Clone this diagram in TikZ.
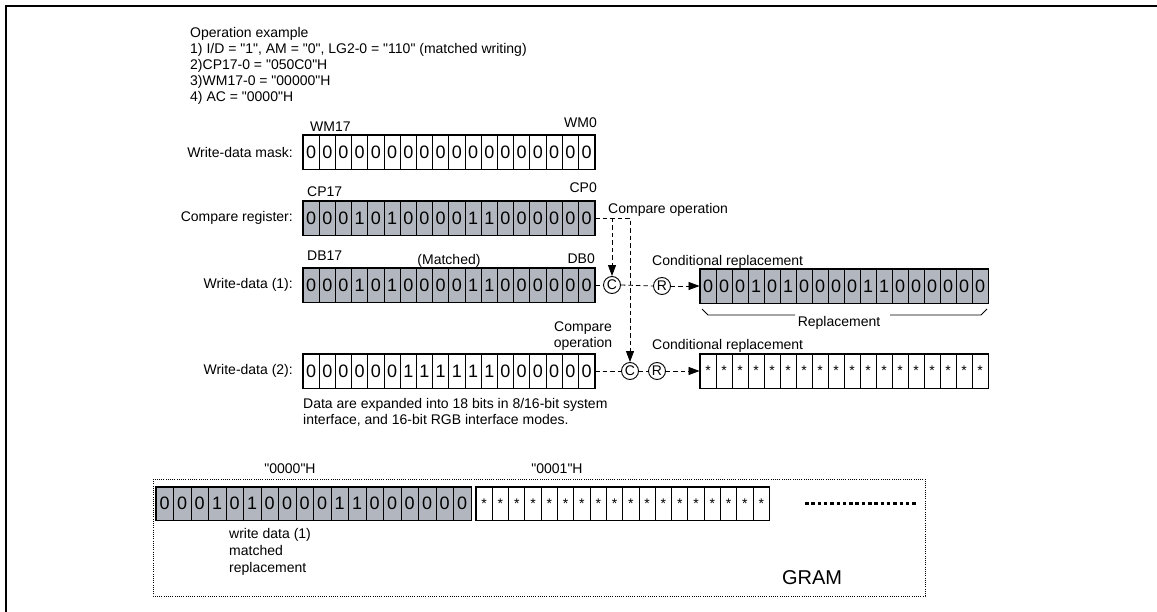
\documentclass[tikz,border=0pt]{standalone}
\usepackage{fontspec}
\setmainfont{Liberation Sans}
\usetikzlibrary{arrows.meta,calc,positioning}
\definecolor{RegGrey}{RGB}{178,182,190}
\newcommand{\dq}{\textquotedbl}

\begin{document}
\begin{tikzpicture}[x=1pt,y=-1pt,
  lbl/.style={font=\fontsize{14}{16}\selectfont,inner sep=0pt},
  bitcell/.style={draw,line width=0.9pt,minimum width=16.2pt,minimum height=34pt,inner sep=0pt,font=\fontsize{18}{18}\selectfont},
  starcell/.style={bitcell,font=\fontsize{14}{14}\selectfont},
  opnode/.style={circle,draw,line width=0.9pt,minimum size=17pt,inner sep=0pt,font=\fontsize{14}{14}\selectfont},
  dashline/.style={line width=0.8pt,dash pattern=on 4.5pt off 3pt},
  flowarrow/.style={dashline,-{Triangle[length=11pt,width=8pt]}}]
\useasboundingbox (0,0) rectangle (1157,612);
\draw[line width=2pt] (6,612) -- (6,6) -- (1157,6);

\node[lbl,anchor=base west] (opex) at (190,38) {Operation example};
\node[lbl,anchor=base west] (op1) at (190,54) {1) I/D = \dq1\dq, AM = \dq0\dq, LG2-0 = \dq110\dq\ (matched writing)};
\node[lbl,anchor=base west] (op2) at (190,70) {2)CP17-0 = \dq050C0\dq H};
\node[lbl,anchor=base west] (op3) at (190,86) {3)WM17-0 = \dq00000\dq H};
\node[lbl,anchor=base west] (op4) at (190,102) {4) AC = \dq0000\dq H};

% register rows
\foreach \b [count=\i] in {0,0,0,0,0,0,0,0,0,0,0,0,0,0,0,0,0,0}
  \node[bitcell] (wm\i) at ({303+(\i-0.5)*16.2},152) {\b};
\foreach \b [count=\i] in {0,0,0,1,0,1,0,0,0,0,1,1,0,0,0,0,0,0}
  \node[bitcell,fill=RegGrey] (cp\i) at ({303+(\i-0.5)*16.2},218) {\b};
\foreach \b [count=\i] in {0,0,0,1,0,1,0,0,0,0,1,1,0,0,0,0,0,0}
  \node[bitcell,fill=RegGrey] (wda\i) at ({303+(\i-0.5)*16.2},285) {\b};
\foreach \b [count=\i] in {0,0,0,0,0,0,1,1,1,1,1,1,0,0,0,0,0,0}
  \node[bitcell] (wdb\i) at ({303+(\i-0.5)*16.2},371) {\b};
\foreach \b [count=\i] in {0,0,0,1,0,1,0,0,0,0,1,1,0,0,0,0,0,0}
  \node[bitcell,fill=RegGrey,minimum width=16pt] (rep\i) at ({700+(\i-0.5)*16},286) {\b};
\foreach \i in {1,...,18}
  \node[starcell,minimum width=16pt] (sub\i) at ({700+(\i-0.5)*16},371) {*};
\foreach \r in {wm,cp,wda,wdb,rep,sub}
  \draw[line width=1.2pt] (\r1.north west) rectangle (\r18.south east);

\node[lbl,anchor=east] (wmlbl) at (293,152) {Write-data mask:};
\node[lbl,anchor=east] (cplbl) at (293,218) {Compare register:};
\node[lbl,anchor=east] (wdalbl) at (293,285) {Write-data (1):};
\node[lbl,anchor=east] (wdblbl) at (293,371) {Write-data (2):};
\node[lbl,anchor=base west] (wmhi) at (310,132) {WM17};
\node[lbl,anchor=base east] (wmlo) at (597,128) {WM0};
\node[lbl,anchor=base west] (cphi) at (307,197) {CP17};
\node[lbl,anchor=base east] (cplo) at (597,193) {CP0};
\node[lbl,anchor=base west] (dbhi) at (307,261) {DB17};
\node[lbl,anchor=base] (match) at (449,265) {(Matched)};
\node[lbl,anchor=base east] (dblo) at (595,264) {DB0};

% compare and replace
\node[opnode] (c1) at (612,285) {C};
\node[opnode] (r1) at (662,286) {R};
\node[opnode] (c2) at (630,371) {C};
\node[opnode] (r2) at (657,371) {R};
\draw[flowarrow] (cp18.east) -| (c2.north);
\draw[flowarrow] (c1 |- cp18.east) -- (c1.north);
\draw[dashline] (wda18.east) -- (c1.west);
\draw[dashline] (c1.east) -- (r1.west);
\draw[flowarrow] (r1.east) -- (rep1.west);
\draw[dashline] (wdb18.east) -- (c2.west);
\draw[dashline] (c2.east) -- (r2.west);
\draw[flowarrow] (r2.east) -- (sub1.west);

\node[lbl,anchor=base west] (cmpop) at (608,214) {Compare operation};
\node[lbl,anchor=base] (cmpop2a) at (583,332) {Compare};
\node[lbl,anchor=base] (cmpop2b) at (583,348) {operation};
\node[lbl,anchor=base west] (cond1) at (652,266) {Conditional replacement};
\node[lbl,anchor=base west] (cond2) at (652,350) {Conditional replacement};
\node[lbl,anchor=base] (replbl) at (839,327) {Replacement};
\draw[line width=0.9pt] (702,309) -- (708,315) -- (795,315);
\draw[line width=0.9pt] (890,315) -- (981,315) -- (987,309);

\node[lbl,anchor=base west] (note1) at (303,408) {Data are expanded into 18 bits in 8/16-bit system};
\node[lbl,anchor=base west] (note2) at (303,424) {interface, and 16-bit RGB interface modes.};

% GRAM
\draw[line width=1pt,dash pattern=on 1pt off 1.2pt] (153,479) rectangle (925,596);
\foreach \b [count=\i] in {0,0,0,1,0,1,0,0,0,0,1,1,0,0,0,0,0,0}
  \node[bitcell,fill=RegGrey,minimum width=17.5pt,minimum height=33pt] (ga\i) at ({156+(\i-0.5)*17.5},503.5) {\b};
\foreach \i in {1,...,18}
  \node[starcell,minimum width=16.3pt,minimum height=33pt] (gb\i) at ({476+(\i-0.5)*16.3},503.5) {*};
\foreach \r in {ga,gb}
  \draw[line width=1.2pt] (\r1.north west) rectangle (\r18.south east);
\draw[line width=3pt,dash pattern=on 3.5pt off 2.8pt] (805,503) -- (918,503);
\node[lbl,anchor=base] (addr0) at (290,473) {\dq0000\dq H};
\node[lbl,anchor=base] (addr1) at (557,473) {\dq0001\dq H};
\node[lbl,anchor=base west] (galbl1) at (229,538) {write data (1)};
\node[lbl,anchor=base west] (galbl2) at (229,555) {matched};
\node[lbl,anchor=base west] (galbl3) at (229,572) {replacement};
\node[font=\fontsize{20}{20}\selectfont] (gram) at (812,578) {GRAM};
\end{tikzpicture}
\end{document}
